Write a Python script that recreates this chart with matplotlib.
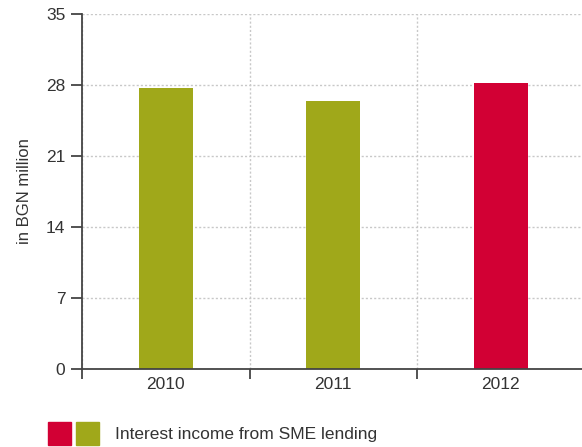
import matplotlib.pyplot as plt
from matplotlib.patches import Rectangle

plt.rcParams['font.family'] = ['Liberation Sans', 'DejaVu Sans']

# data
years = ["2010", "2011", "2012"]
income = [27.7, 26.4, 28.2]
bar_colors = ["#a0a81a", "#a0a81a", "#d20034"]
yticks = [0, 7, 14, 21, 28, 35]
legend_label = "Interest income from SME lending"

text_col = "#333333"
spine_col = "#444444"

fig = plt.figure(figsize=(5.82, 4.47), dpi=100)
ax = fig.add_axes([82/582, 1 - 369/447, 1 - 82/582, (369 - 14)/447])

x = list(range(len(years)))
ax.bar(x, income, width=0.32, color=bar_colors, zorder=3)

ax.set_xlim(-0.5, 2.485)
ax.set_ylim(0, 35)
ax.set_yticks(yticks)
ax.set_yticklabels([str(v) for v in yticks])
ax.set_xticks(x)
ax.set_xticklabels(years)
ax.set_xticks([-0.5, 0.5, 1.5], minor=True)

# grid: dotted horizontal at y ticks, vertical at category borders
ax.grid(axis="y", which="major", linestyle=(0, (1.5, 1.5)), color="#c8c8c8", linewidth=1, zorder=0)
ax.grid(axis="x", which="minor", linestyle=(0, (1.5, 1.5)), color="#c8c8c8", linewidth=1, zorder=0)

for s in ["top", "right"]:
    ax.spines[s].set_visible(False)
for s in ["left", "bottom"]:
    ax.spines[s].set_color(spine_col)
    ax.spines[s].set_linewidth(1.3)
    ax.spines[s].set_zorder(4)

ax.tick_params(axis="y", direction="out", length=8, width=1.3, color=spine_col,
               labelsize=12.5, labelcolor=text_col, pad=4)
ax.tick_params(axis="x", which="major", length=0, labelsize=12.5, labelcolor=text_col, pad=6)
ax.tick_params(axis="x", which="minor", direction="out", length=7, width=1.3, color=spine_col)

ax.set_ylabel("in BGN million", fontsize=12, color=text_col, labelpad=10)

# legend: two colour squares and a label
fig.add_artist(Rectangle((48/582, 1 - 445/447), 23/582, 23/447,
                         transform=fig.transFigure, color="#d20034"))
fig.add_artist(Rectangle((76/582, 1 - 445/447), 23/582, 23/447,
                         transform=fig.transFigure, color="#a0a81a"))
fig.text(115/582, 1 - 434/447, legend_label, fontsize=12.5, color=text_col, va="center")

fig.savefig("out.png", dpi=100)
